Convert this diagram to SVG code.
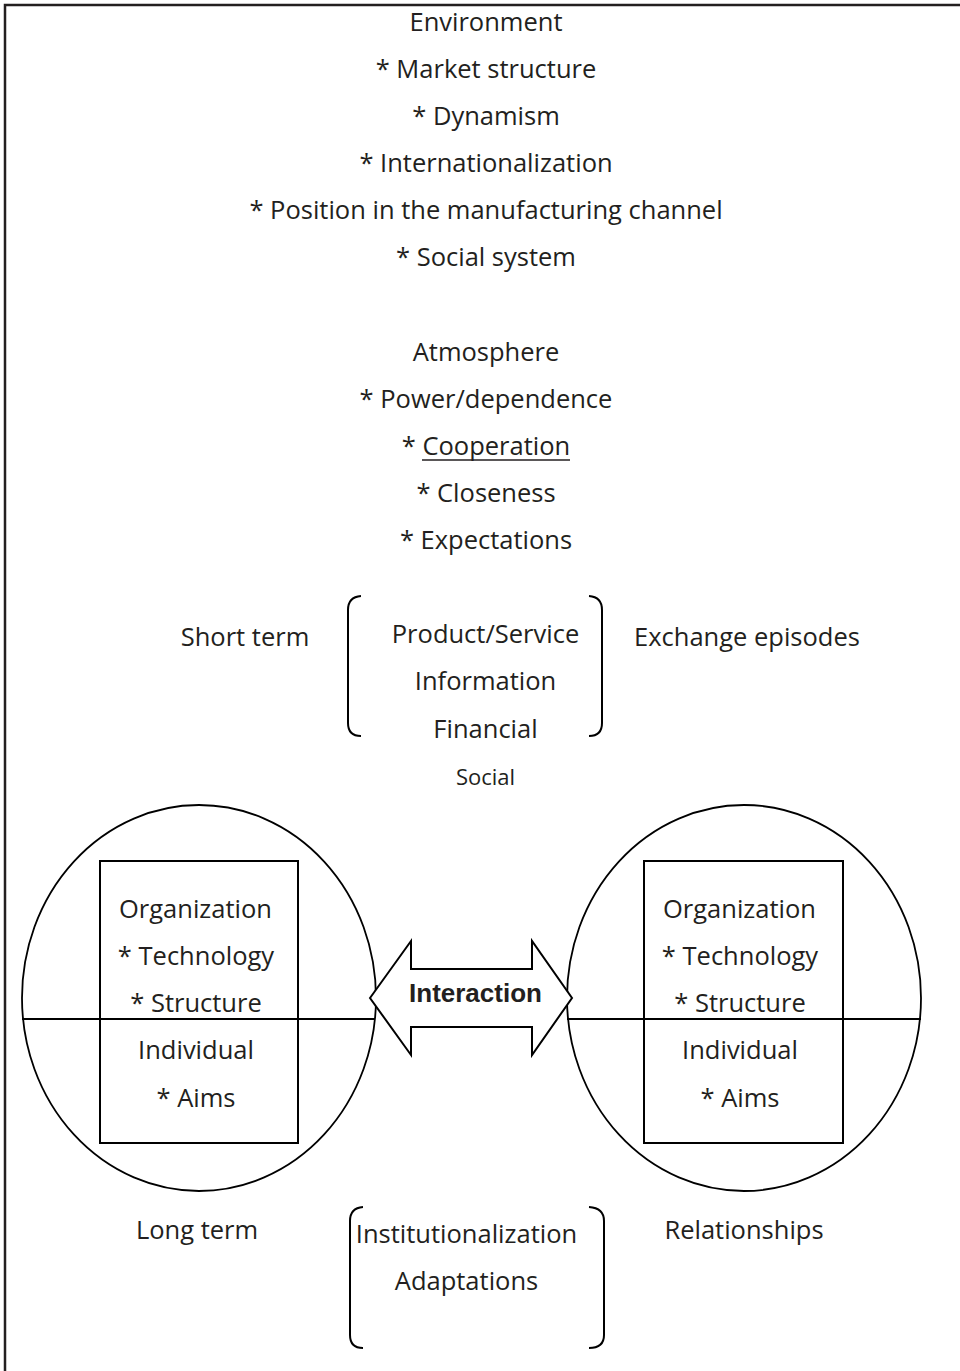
<svg xmlns="http://www.w3.org/2000/svg" width="960" height="1371" viewBox="0 0 960 1371">
<style>
.t{font-family:"Open Sans","Noto Sans",sans-serif;font-size:25.5px;fill:#231f20;text-anchor:middle}
.s{font-size:22px}
.ln{stroke:#000;stroke-width:2;fill:none}
.thin{stroke:#000;stroke-width:1.8;fill:none}
</style>
<rect width="960" height="1371" fill="#fff"/>
<g id="frame"><path d="M5 1371 V5 H960" stroke="#231f20" stroke-width="2.5" fill="none"/></g>
<g id="environment">
<text class="t" x="486" y="31">Environment</text>
<text class="t" x="486" y="78">* Market structure</text>
<text class="t" x="486" y="125">* Dynamism</text>
<text class="t" x="486" y="172">* Internationalization</text>
<text class="t" x="486" y="219">* Position in the manufacturing channel</text>
<text class="t" x="486" y="266">* Social system</text>
</g>
<g id="atmosphere">
<text class="t" x="486" y="361">Atmosphere</text>
<text class="t" x="486" y="408">* Power/dependence</text>
<text class="t" x="486" y="455">* Cooperation</text>
<line x1="422" y1="460" x2="570" y2="460" stroke="#231f20" stroke-width="1.5"/>
<text class="t" x="486" y="502">* Closeness</text>
<text class="t" x="486" y="549">* Expectations</text>
</g>
<g id="exchange">
<text class="t" x="245" y="646">Short term</text>
<text class="t" x="747" y="646">Exchange episodes</text>
<path class="ln" d="M361 596 Q348 597 348 610 V723 Q348 736 361 736"/>
<path class="ln" d="M589 596 Q602 597 602 610 V723 Q602 736 589 736"/>
<text class="t" x="485.5" y="643">Product/Service</text>
<text class="t" x="485.5" y="690">Information</text>
<text class="t" x="485.5" y="738">Financial</text>
<text class="t s" x="485.5" y="785">Social</text>
</g>
<g id="party-left">
<ellipse class="thin" cx="199" cy="998" rx="177" ry="193"/>
<rect class="ln" x="100" y="861" width="198" height="282"/>
<line class="thin" x1="22" y1="1019" x2="375" y2="1019"/>
<text class="t" x="195.5" y="918">Organization</text>
<text class="t" x="196" y="965">* Technology</text>
<text class="t" x="196" y="1012">* Structure</text>
<text class="t" x="196" y="1059">Individual</text>
<text class="t" x="196" y="1107">* Aims</text>
</g>
<g id="party-right">
<ellipse class="thin" cx="744" cy="998" rx="177" ry="193"/>
<rect class="ln" x="644" y="861" width="199" height="282"/>
<line class="thin" x1="567" y1="1019" x2="921" y2="1019"/>
<text class="t" x="739.5" y="918">Organization</text>
<text class="t" x="740" y="965">* Technology</text>
<text class="t" x="740" y="1012">* Structure</text>
<text class="t" x="740" y="1059">Individual</text>
<text class="t" x="740" y="1107">* Aims</text>
</g>
<g id="connectors">
<polygon points="370,998 411,941 411,969 532,969 532,941 572,998 532,1055 532,1027 411,1027 411,1055" fill="#fff" stroke="#000" stroke-width="2" stroke-linejoin="miter"/>
<text x="475.5" y="1002" font-family="Liberation Sans, Arial, sans-serif" font-size="26" font-weight="bold" fill="#231f20" text-anchor="middle">Interaction</text>
</g>
<g id="relationships">
<text class="t" x="197" y="1239">Long term</text>
<text class="t" x="744" y="1239">Relationships</text>
<path class="ln" d="M363 1207 Q350 1208 350 1221 V1335 Q350 1348 363 1348"/>
<path class="ln" d="M589 1207 Q604 1208 604 1221 V1335 Q604 1348 589 1348"/>
<text class="t" x="466.5" y="1243">Institutionalization</text>
<text class="t" x="466.5" y="1290">Adaptations</text>
</g>
</svg>
